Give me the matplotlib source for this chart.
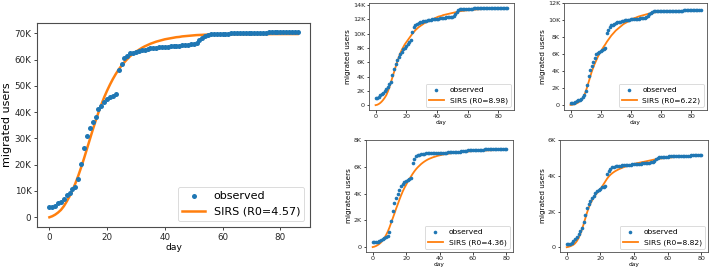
import matplotlib
matplotlib.use("Agg")
import matplotlib.pyplot as plt
from matplotlib.ticker import FixedLocator

# ---------------- data (values in thousands of users) ----------------
days_a = list(range(0, 87))   # panels with 87 days
days_b = list(range(0, 81))   # panels with 81 days

main_obs = [4.06, 4.06, 4.3, 5.3, 6.0, 6.8, 8.5, 9.4, 10.7, 11.4,
            14.6, 20.3, 26.2, 30.8, 34.1, 36.1, 38.0, 41.1, 42.5, 44.0,
            44.9, 45.6, 46.3, 46.9, 56.0, 58.2, 60.4, 61.5, 62.4, 62.6,
            62.9, 63.2, 63.5, 63.8, 64.0, 64.2, 64.4, 64.5, 64.6, 64.7,
            64.8, 64.9, 65.0, 65.1, 65.2, 65.3, 65.4, 65.5, 65.7, 65.9,
            66.1, 66.3, 67.5, 68.3, 69.0, 69.4, 69.6, 69.7, 69.75, 69.8,
            69.85, 69.9, 69.9, 69.95, 70.0, 70.0, 70.05, 70.1, 70.1, 70.1,
            70.15, 70.2, 70.2, 70.2, 70.25, 70.25, 70.3, 70.3, 70.3, 70.3,
            70.35, 70.35, 70.35, 70.4, 70.4, 70.4, 70.4]
main_sirs = [0.0, 0.4, 1.0, 1.8, 2.8, 4.2, 6.0, 8.0, 10.3, 12.9,
             15.8, 19.0, 22.4, 26.0, 29.6, 33.2, 36.6, 39.9, 42.9, 45.7,
             48.2, 50.5, 52.6, 54.5, 56.2, 57.7, 59.0, 60.2, 61.3, 62.2,
             63.0, 63.7, 64.4, 65.0, 65.5, 66.0, 66.4, 66.8, 67.1, 67.4,
             67.7, 67.9, 68.1, 68.3, 68.5, 68.6, 68.8, 68.9, 69.0, 69.1,
             69.2, 69.3, 69.35, 69.4, 69.45, 69.5, 69.5, 69.55, 69.55, 69.6,
             69.6, 69.6, 69.6, 69.62, 69.62, 69.63, 69.64, 69.65, 69.65, 69.65,
             69.66, 69.66, 69.67, 69.67, 69.67, 69.68, 69.68, 69.68, 69.69, 69.69,
             69.69, 69.7, 69.7, 69.7, 69.7, 69.7, 69.7]

tm_obs = [1.07, 1.07, 1.16, 1.44, 1.58, 1.76, 2.0, 2.3, 2.6, 2.9,
          3.3, 4.2, 5.0, 5.7, 6.3, 6.8, 7.2, 7.5, 7.8, 8.0,
          8.3, 8.6, 8.9, 9.1, 10.2, 10.9, 11.2, 11.4, 11.5, 11.6,
          11.7, 11.75, 11.8, 11.85, 11.9, 11.92, 11.95, 12.0, 12.0, 12.05,
          12.1, 12.1, 12.15, 12.2, 12.2, 12.25, 12.3, 12.3, 12.35, 12.35,
          12.4, 12.5, 12.8, 13.1, 13.3, 13.4, 13.45, 13.47, 13.5, 13.5,
          13.5, 13.52, 13.52, 13.53, 13.54, 13.55, 13.55, 13.56, 13.57, 13.58,
          13.58, 13.59, 13.6, 13.6, 13.61, 13.61, 13.62, 13.62, 13.63, 13.63,
          13.63, 13.64, 13.64, 13.64, 13.65, 13.65, 13.65]
tm_sirs = [0.0, 0.05, 0.15, 0.3, 0.5, 0.75, 1.05, 1.4, 1.9, 2.5,
           3.2, 3.9, 4.6, 5.3, 6.0, 6.6, 7.2, 7.7, 8.1, 8.5,
           8.8, 9.1, 9.4, 9.7, 10.0, 10.25, 10.5, 10.7, 10.9, 11.05,
           11.2, 11.35, 11.5, 11.6, 11.7, 11.8, 11.9, 12.0, 12.1, 12.2,
           12.3, 12.4, 12.45, 12.5, 12.6, 12.65, 12.7, 12.75, 12.8, 12.85,
           12.9, 12.95, 13.0, 13.05, 13.1, 13.15, 13.18, 13.2, 13.23, 13.26,
           13.28, 13.3, 13.32, 13.34, 13.36, 13.38, 13.4, 13.41, 13.42, 13.44,
           13.45, 13.46, 13.47, 13.48, 13.49, 13.5, 13.51, 13.52, 13.53, 13.54,
           13.55, 13.56, 13.57, 13.58, 13.58, 13.59, 13.6]

tr_obs = [0.2, 0.2, 0.25, 0.35, 0.43, 0.55, 0.62, 0.74, 0.93, 1.2,
          1.6, 2.4, 3.4, 4.1, 4.6, 5.1, 5.5, 6.0, 6.15, 6.3,
          6.4, 6.5, 6.6, 6.7, 8.5, 8.9, 9.2, 9.4, 9.5, 9.6,
          9.7, 9.75, 9.8, 9.85, 9.9, 9.95, 10.0, 10.0, 10.05, 10.05,
          10.1, 10.1, 10.15, 10.15, 10.2, 10.2, 10.25, 10.25, 10.3, 10.3,
          10.35, 10.5, 10.7, 10.9, 11.0, 11.05, 11.06, 11.07, 11.08, 11.08,
          11.09, 11.1, 11.1, 11.11, 11.11, 11.12, 11.12, 11.13, 11.13, 11.14,
          11.14, 11.15, 11.15, 11.16, 11.16, 11.17, 11.17, 11.17, 11.18, 11.18,
          11.18, 11.19, 11.19, 11.19, 11.2, 11.2, 11.2]
tr_sirs = [0.0, 0.02, 0.05, 0.1, 0.18, 0.28, 0.4, 0.55, 0.78, 1.1,
           1.55, 2.1, 2.7, 3.3, 3.9, 4.4, 4.85, 5.25, 5.65, 6.0,
           6.3, 6.6, 6.9, 7.15, 7.45, 7.7, 7.95, 8.2, 8.4, 8.6,
           8.8, 8.95, 9.1, 9.25, 9.4, 9.55, 9.65, 9.75, 9.85, 9.95,
           10.05, 10.15, 10.25, 10.3, 10.38, 10.45, 10.5, 10.55, 10.6, 10.65,
           10.7, 10.75, 10.8, 10.85, 10.88, 10.92, 10.95, 10.97, 10.99, 11.0,
           11.01, 11.02, 11.03, 11.04, 11.05, 11.06, 11.07, 11.08, 11.08, 11.09,
           11.09, 11.1, 11.1, 11.11, 11.11, 11.12, 11.12, 11.12, 11.13, 11.13,
           11.13, 11.14, 11.14, 11.14, 11.15, 11.15, 11.15]

bm_obs = [0.35, 0.35, 0.35, 0.4, 0.45, 0.53, 0.58, 0.65, 0.78, 0.85,
          1.1, 1.95, 2.7, 3.3, 3.66, 3.96, 4.3, 4.55, 4.7, 4.85,
          4.96, 5.04, 5.1, 5.16, 6.3, 6.6, 6.8, 6.87, 6.92, 6.97,
          7.0, 7.0, 7.01, 7.02, 7.03, 7.04, 7.04, 7.05, 7.05, 7.06,
          7.06, 7.07, 7.07, 7.08, 7.08, 7.09, 7.09, 7.1, 7.1, 7.11,
          7.12, 7.13, 7.15, 7.18, 7.2, 7.22, 7.23, 7.24, 7.25, 7.26,
          7.26, 7.27, 7.28, 7.28, 7.29, 7.3, 7.3, 7.31, 7.31, 7.32,
          7.32, 7.33, 7.33, 7.34, 7.34, 7.35, 7.35, 7.36, 7.36, 7.37,
          7.37]
bm_sirs = [0.0, 0.03, 0.08, 0.15, 0.24, 0.35, 0.5, 0.68, 0.9, 1.15,
           1.45, 1.8, 2.15, 2.5, 2.87, 3.2, 3.55, 3.87, 4.17, 4.43,
           4.66, 4.9, 5.1, 5.3, 5.5, 5.68, 5.84, 5.98, 6.1, 6.22,
           6.32, 6.41, 6.49, 6.56, 6.62, 6.67, 6.72, 6.76, 6.8, 6.84,
           6.87, 6.9, 6.93, 6.95, 6.97, 6.99, 7.01, 7.03, 7.05, 7.07,
           7.08, 7.1, 7.11, 7.12, 7.13, 7.14, 7.15, 7.16, 7.17, 7.18,
           7.19, 7.2, 7.2, 7.21, 7.22, 7.22, 7.23, 7.23, 7.24, 7.24,
           7.25, 7.25, 7.26, 7.26, 7.27, 7.27, 7.28, 7.28, 7.29, 7.29,
           7.3]

br_obs = [0.17, 0.17, 0.19, 0.26, 0.32, 0.45, 0.6, 0.75, 0.92, 1.1,
          1.4, 1.8, 2.2, 2.42, 2.6, 2.76, 2.9, 3.04, 3.13, 3.23,
          3.28, 3.36, 3.4, 3.43, 4.1, 4.26, 4.4, 4.48, 4.52, 4.54,
          4.56, 4.57, 4.58, 4.59, 4.6, 4.61, 4.62, 4.63, 4.64, 4.65,
          4.66, 4.67, 4.68, 4.69, 4.7, 4.71, 4.72, 4.73, 4.74, 4.75,
          4.77, 4.79, 4.85, 4.93, 5.0, 5.05, 5.07, 5.08, 5.08, 5.09,
          5.09, 5.1, 5.1, 5.11, 5.11, 5.12, 5.12, 5.12, 5.13, 5.13,
          5.13, 5.14, 5.14, 5.14, 5.15, 5.15, 5.15, 5.15, 5.16, 5.16,
          5.16]
br_sirs = [0.0, 0.02, 0.05, 0.09, 0.14, 0.22, 0.34, 0.5, 0.72, 0.98,
           1.28, 1.6, 1.92, 2.2, 2.43, 2.62, 2.78, 2.92, 3.04, 3.15,
           3.27, 3.4, 3.55, 3.7, 3.85, 3.97, 4.07, 4.15, 4.22, 4.28,
           4.33, 4.38, 4.42, 4.46, 4.5, 4.53, 4.56, 4.59, 4.62, 4.65,
           4.68, 4.7, 4.72, 4.74, 4.76, 4.78, 4.8, 4.82, 4.84, 4.86,
           4.88, 4.9, 4.92, 4.94, 4.95, 4.97, 4.98, 4.99, 5.0, 5.01,
           5.02, 5.03, 5.04, 5.05, 5.06, 5.07, 5.07, 5.08, 5.09, 5.09,
           5.1, 5.1, 5.11, 5.11, 5.12, 5.12, 5.13, 5.13, 5.13, 5.14,
           5.14]

r0_values = ["4.57", "8.98", "6.22", "4.36", "8.82"]
main_yticks = [0, 10, 20, 30, 40, 50, 60, 70]
tm_yticks = [0, 2, 4, 6, 8, 10, 12, 14]
tr_yticks = [0, 2, 4, 6, 8, 10, 12]
bm_yticks = [0, 2, 4, 6, 8]
br_yticks = [0, 2, 4, 6]
xticks = [0, 20, 40, 60, 80]

# ---------------- figure ----------------
W, H = 709, 269
fig = plt.figure(figsize=(W / 100, H / 100), dpi=100)

def rect(l, r, t, b):
    return [l / W, (H - b) / H, (r - l) / W, (b - t) / H]

def klabel(v):
    return "0" if v == 0 else f"{v}K"

def draw(ax, x, obs, sirs, r0, yticks, ylim, xlim, big):
    ms = 3.6 if big else 2.6
    lw = 1.8 if big else 1.3
    ax.plot(x, obs, 'o', color='#1f77b4', ms=ms, mew=0, label='observed', zorder=3)
    ax.plot(x, sirs, '-', color='#ff7f0e', lw=lw, label=f'SIRS (R0={r0})', zorder=2)
    ax.set_xlim(*xlim)
    ax.set_ylim(*ylim)
    ax.yaxis.set_major_locator(FixedLocator(yticks))
    ax.set_yticklabels([klabel(v) for v in yticks])
    ax.xaxis.set_major_locator(FixedLocator(xticks))
    tfs = 6.3 if big else 4.6
    ax.tick_params(labelsize=tfs, length=2.5 if big else 1.8, width=0.6,
                   pad=1.5 if big else 1.0, colors='0.15')
    for s in ax.spines.values():
        s.set_color('0.3')
        s.set_linewidth(0.8 if big else 0.6)
    ax.set_xlabel('day', fontsize=6.6 if big else 4.2, labelpad=1 if big else 0.5)
    ax.set_ylabel('migrated users', fontsize=8 if big else 5.2, labelpad=2 if big else 1.5)
    leg = ax.legend(loc='lower right', fontsize=8 if big else 5.4,
                    borderaxespad=0.5 if big else 0.45,
                    handlelength=2.0, framealpha=0.8)
    leg.get_frame().set_linewidth(0.6)

ax0 = fig.add_axes(rect(37, 310, 23, 227))
draw(ax0, days_a, main_obs, main_sirs, r0_values[0], main_yticks,
     (-3.7, 73.9), (-4.3, 90.3), True)

ax1 = fig.add_axes(rect(369, 514, 3, 110))
draw(ax1, days_a, tm_obs, tm_sirs, r0_values[1], tm_yticks,
     (-0.68, 14.3), (-4.3, 90.3), False)

ax2 = fig.add_axes(rect(564, 707, 3, 110))
draw(ax2, days_a, tr_obs, tr_sirs, r0_values[2], tr_yticks,
     (-0.6, 12.05), (-4.3, 90.3), False)

ax3 = fig.add_axes(rect(366, 513, 140, 252))
draw(ax3, days_b, bm_obs, bm_sirs, r0_values[3], bm_yticks,
     (-0.37, 8.02), (-4.0, 84.0), False)

ax4 = fig.add_axes(rect(560, 708, 140, 252))
draw(ax4, days_b, br_obs, br_sirs, r0_values[4], br_yticks,
     (-0.27, 6.02), (-4.0, 84.0), False)

fig.savefig("out.png", dpi=100)
